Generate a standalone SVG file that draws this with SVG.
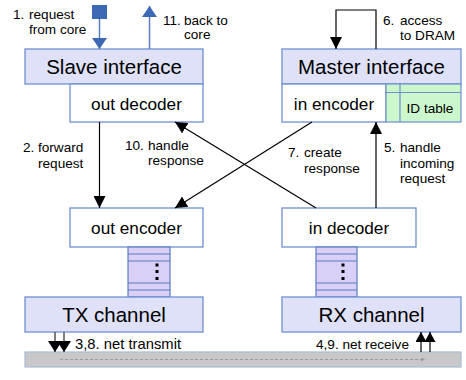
<svg xmlns="http://www.w3.org/2000/svg" width="466" height="380" viewBox="0 0 466 380">
<style>
  .hdr { fill: #dfe1f8; stroke: #6f8fcf; stroke-width: 1.3; }
  .wbox { fill: #ffffff; stroke: #6f8fcf; stroke-width: 1.3; }
  .q { fill: #d9cff7; stroke: #5b7cc4; stroke-width: 1.2; }
  .idt { fill: #ccf7cc; stroke: #6f8fcf; stroke-width: 1.2; }
  .big { font-family: "Liberation Sans", Arial, sans-serif; font-size: 20.5px; fill: #000; text-anchor: middle; }
  .mid { font-family: "Liberation Sans", Arial, sans-serif; font-size: 17.2px; fill: #000; text-anchor: middle; }
  .lbl { font-family: "Liberation Sans", Arial, sans-serif; font-size: 13.6px; fill: #000; }
  .conn { stroke: #000; stroke-width: 1.2; fill: none; }
  .blue { stroke: #5a7fc0; stroke-width: 1.5; fill: none; }
  .net { stroke: #555; stroke-width: 1.5; fill: none; }
</style>
<defs>
  <marker id="ah" markerUnits="userSpaceOnUse" markerWidth="13" markerHeight="12" refX="12" refY="6" orient="auto">
    <path d="M0,0 L12,6 L0,12 z" fill="#000"/>
  </marker>
  <marker id="ahb" markerUnits="userSpaceOnUse" markerWidth="12" markerHeight="16" refX="11" refY="7.5" orient="auto">
    <path d="M0,0 L11,7.5 L0,15 z" fill="#3d68b4"/>
  </marker>
  <marker id="ahn" markerUnits="userSpaceOnUse" markerWidth="11" markerHeight="12" refX="10" refY="5.5" orient="auto">
    <path d="M0,0 L10,5.5 L0,11 z" fill="#000"/>
  </marker>
  <marker id="aht" markerUnits="userSpaceOnUse" markerWidth="12" markerHeight="15" refX="11" refY="7" orient="auto">
    <path d="M0,0 L11,7 L0,14 z" fill="#000"/>
  </marker>
  <marker id="ahs" markerUnits="userSpaceOnUse" markerWidth="5" markerHeight="5" refX="4" refY="2" orient="auto">
    <path d="M0,0 L4,2 L0,4 z" fill="#9a9a9a"/>
  </marker>
</defs>

<g id="network">
  <rect x="25" y="352" width="436" height="15" fill="#c8c8c8" stroke="#a8bcd8" stroke-width="1.2"/>
  <line x1="60" y1="359.5" x2="425" y2="359.5" stroke="#9a9a9a" stroke-width="1" stroke-dasharray="3,2" marker-end="url(#ahs)"/>
</g>

<g id="slave-interface">
  <rect class="hdr" x="25" y="49" width="178" height="35"/>
  <text class="big" x="114" y="74">Slave interface</text>
</g>
<g id="out-decoder">
  <rect class="wbox" x="70" y="84" width="133" height="38"/>
  <text class="mid" x="136.5" y="110">out decoder</text>
</g>

<g id="master-interface">
  <rect class="hdr" x="282" y="49" width="179" height="35"/>
  <text class="big" x="371.5" y="74">Master interface</text>
</g>
<g id="in-encoder">
  <rect class="wbox" x="282" y="84" width="104" height="38"/>
  <text class="mid" x="334" y="110">in encoder</text>
</g>
<g id="id-table">
  <rect class="idt" x="386" y="84" width="75" height="38"/>
  <line x1="400" y1="84" x2="400" y2="122" stroke="#6f8fcf" stroke-width="1.2"/>
  <line x1="386" y1="92.5" x2="461" y2="92.5" stroke="#6f8fcf" stroke-width="1.2"/>
  <text class="lbl" x="430" y="112.5" text-anchor="middle">ID table</text>
</g>

<g id="out-encoder">
  <rect class="wbox" x="70" y="208" width="133" height="39"/>
  <text class="mid" x="136.5" y="234">out encoder</text>
</g>
<g id="in-decoder">
  <rect class="wbox" x="282" y="208" width="134" height="39"/>
  <text class="mid" x="349" y="234">in decoder</text>
</g>

<g id="tx-queue">
  <rect class="q" x="128" y="247" width="42" height="50"/>
  <line class="q" x1="128" y1="254" x2="170" y2="254"/>
  <line class="q" x1="128" y1="261" x2="170" y2="261"/>
  <line class="q" x1="128" y1="283" x2="170" y2="283"/>
  <line class="q" x1="128" y1="290" x2="170" y2="290"/>
  <rect x="155.5" y="263.5" width="3" height="3" fill="#000"/>
  <rect x="155.5" y="270" width="3" height="3" fill="#000"/>
  <rect x="155.5" y="277" width="3" height="3" fill="#000"/>
</g>
<g id="rx-queue">
  <rect class="q" x="316" y="247" width="41" height="50"/>
  <line class="q" x1="316" y1="254" x2="357" y2="254"/>
  <line class="q" x1="316" y1="261" x2="357" y2="261"/>
  <line class="q" x1="316" y1="283" x2="357" y2="283"/>
  <line class="q" x1="316" y1="290" x2="357" y2="290"/>
  <rect x="341.5" y="263.5" width="3" height="3" fill="#000"/>
  <rect x="341.5" y="270" width="3" height="3" fill="#000"/>
  <rect x="341.5" y="277" width="3" height="3" fill="#000"/>
</g>

<g id="tx-channel">
  <rect class="hdr" x="25" y="297" width="178" height="35"/>
  <text class="big" x="114" y="322">TX channel</text>
</g>
<g id="rx-channel">
  <rect class="hdr" x="282" y="297" width="179" height="35"/>
  <text class="big" x="371.5" y="322">RX channel</text>
</g>

<g id="core-io">
  <rect x="92" y="5" width="15" height="14" fill="#3d68b4"/>
</g>

<g id="connectors">
  <line class="blue" x1="99.5" y1="19" x2="99.5" y2="49" marker-end="url(#ahb)"/>
  <line class="blue" x1="149.5" y1="49" x2="149.5" y2="6" marker-end="url(#ahb)"/>
  <path class="conn" d="M376,49 V10 H336 V49" marker-end="url(#ah)"/>
  <line class="conn" x1="99.5" y1="122" x2="99.5" y2="208" marker-end="url(#ah)"/>
  <line class="conn" x1="316" y1="208" x2="175" y2="122" marker-end="url(#ah)"/>
  <line class="conn" x1="312" y1="122" x2="175" y2="208" marker-end="url(#ah)"/>
  <line class="conn" x1="376" y1="208" x2="376" y2="122" marker-end="url(#ah)"/>
  <line class="net" x1="55" y1="332" x2="55" y2="352" marker-end="url(#aht)"/>
  <line class="net" x1="64" y1="332" x2="64" y2="352" marker-end="url(#aht)"/>
  <line class="conn" x1="421" y1="352" x2="421" y2="332" marker-end="url(#ahn)"/>
  <line class="conn" x1="430" y1="352" x2="430" y2="332" marker-end="url(#ahn)"/>
</g>

<g id="labels">
  <text class="lbl" x="13" y="19">1.</text>
  <text class="lbl" x="29" y="19">request</text>
  <text class="lbl" x="29" y="34">from core</text>

  <text class="lbl" x="163" y="25">11.</text>
  <text class="lbl" x="184" y="25">back to</text>
  <text class="lbl" x="184" y="39">core</text>

  <text class="lbl" x="383" y="25">6.</text>
  <text class="lbl" x="400" y="25">access</text>
  <text class="lbl" x="400" y="40">to DRAM</text>

  <text class="lbl" x="23" y="152">2.</text>
  <text class="lbl" x="38" y="152">forward</text>
  <text class="lbl" x="38" y="168">request</text>

  <text class="lbl" x="125" y="150">10.</text>
  <text class="lbl" x="148" y="150">handle</text>
  <text class="lbl" x="148" y="165">response</text>

  <text class="lbl" x="288" y="157">7.</text>
  <text class="lbl" x="304" y="157">create</text>
  <text class="lbl" x="304" y="173">response</text>

  <text class="lbl" x="384" y="152">5.</text>
  <text class="lbl" x="400" y="152">handle</text>
  <text class="lbl" x="400" y="168">incoming</text>
  <text class="lbl" x="400" y="183">request</text>

  <text class="lbl" x="75" y="349" style="font-size:14.8px">3,8. net transmit</text>
  <text class="lbl" x="316" y="349">4,9. net receive</text>
</g>
</svg>
